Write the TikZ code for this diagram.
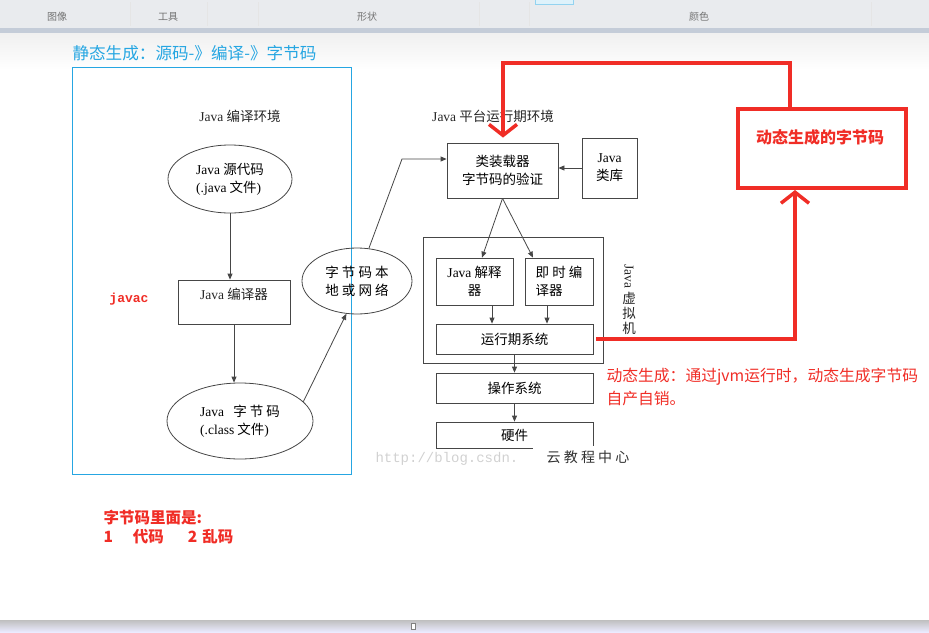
\documentclass[tikz,border=0pt]{standalone}
\usepackage{fontspec}
\setmainfont{Noto Sans CJK SC}
\newfontfamily\latserif{Liberation Serif}
\newfontfamily\latmono{Liberation Mono}
\usetikzlibrary{arrows.meta, shapes.geometric, positioning}
\definecolor{zblue}{RGB}{38,166,226}
\definecolor{zred}{RGB}{240,45,38}
\definecolor{zline}{RGB}{70,70,70}
\definecolor{zbar}{RGB}{233,235,238}
\definecolor{zbarline}{RGB}{196,204,216}
\newcommand\jv{{\latserif Java}}

\begin{document}
\begin{tikzpicture}[x=1pt, y=-1pt,
  ovalnode/.style={ellipse, draw=zline, line width=0.8pt, inner sep=0pt,
                   font=\fontsize{13.5}{18}\selectfont, align=left},
  boxnode/.style={rectangle, draw=zline, line width=0.8pt, inner sep=2pt,
                  font=\fontsize{13.5}{18}\selectfont, align=center},
  lbl/.style={font=\fontsize{13.5}{15}\selectfont, text=black!85},
  tabtext/.style={font=\fontsize{10}{12}\selectfont, text=black!55},
  arr/.style={-{Triangle[length=6pt, width=5pt]}, line width=0.8pt, zline},
  redarr/.style={-{Straight Barb[length=11pt, width=28pt]}, line width=3.5pt, zred},
  rednote/.style={font=\fontsize{15.8}{23}\selectfont, text=zred, align=left, anchor=west}
]
\useasboundingbox (0,0) rectangle (929,632);

% window bars
\fill[zbar] (0,0) rectangle (929,28);
\fill[zbarline] (0,28) rectangle (929,33);
\shade[top color=black!6, bottom color=white] (0,33) rectangle (929,70);
\foreach \sx in {130,207,258,479,529,871}
  \draw[black!10] (\sx,2) -- (\sx,26);
\draw[zblue!50, fill=zblue!15] (535,-1) rectangle (573,4);
\node[tabtext] (tabimg)   at (57,17)  {图像};
\node[tabtext] (tabtool)  at (168,17) {工具};
\node[tabtext] (tabshape) at (367,17) {形状};
\node[tabtext] (tabcolor) at (699,17) {颜色};
\shade[top color=black!25, bottom color=blue!8] (0,620) rectangle (929,632);
\draw[black!50, fill=white] (411,623) rectangle (415,629);

% static side
\node[font=\fontsize{16.6}{18}\selectfont, text=zblue, anchor=west] (stitle) at (69,53)
  {静态生成：源码-》编译-》字节码};
\node[draw=zblue, line width=0.8pt, minimum width=279pt, minimum height=407pt] (staticenv)
  at (211.5,270.5) {};
\node[lbl] (cenv) at (240,116) {\jv\ 编译环境};
\node[ovalnode, minimum width=124pt, minimum height=68pt] (src) at (230,179)
  {\jv\ 源代码\\{\latserif(.java} 文件{\latserif)}};
\node[boxnode, minimum width=112pt, minimum height=44pt,
      label={[lbl, anchor=north, yshift=-5pt]north:\jv\ 编译器}] (javacbox) at (234,302) {};
\node[ovalnode, minimum width=146pt, minimum height=76pt] (clsfile) at (240,421)
  {\jv\ \ \ 字 节 码\\{\latserif(.class} 文件{\latserif)}};
\node[ovalnode, minimum width=110pt, minimum height=66pt, align=center] (netsrc) at (357,281)
  {字 节 码 本\\地 或 网 络};
\node[font=\latmono\bfseries\fontsize{13}{15}\selectfont, text=zred] (javac) at (129,299) {javac};

% runtime side
\node[lbl] (renv) at (493,116) {\jv\ 平台运行期环境};
\node[boxnode, minimum width=111pt, minimum height=55pt] (loader) at (502.5,170.5)
  {类装载器\\字节码的验证};
\node[boxnode, minimum width=55pt, minimum height=60pt] (classlib) at (609.5,168) {\jv\\类库};
\node[boxnode, minimum width=180pt, minimum height=126pt] (jvm) at (513,300) {};
\node[boxnode, minimum width=77pt, minimum height=47pt] (interp) at (474.5,281.5) {\jv\ 解释\\器};
\node[boxnode, minimum width=68pt, minimum height=47pt, align=left] (jit) at (559,281.5)
  {即 时 编\\译器};
\node[boxnode, minimum width=157pt, minimum height=30pt] (runtime) at (514.5,339) {运行期系统};
\node[boxnode, minimum width=157pt, minimum height=30pt] (os) at (514.5,388) {操作系统};
\node[boxnode, minimum width=157pt, minimum height=26pt] (hw) at (514.5,435) {硬件};
\node[lbl, rotate=-90] (vmjava) at (629,276) {\jv};
\node[lbl, align=center, font=\fontsize{13.5}{15}\selectfont] (vmname) at (629,313) {虚\\拟\\机};

% watermark
\node[font=\latmono\fontsize{14}{16}\selectfont, text=black!18, anchor=west] (wmurl)
  at (372,459) {http://blog.csdn.};
\fill[white] (533,446) rectangle (650,482);
\node[font=\fontsize{14}{16}\selectfont, text=black!80] (wmlogo) at (588,457) {云 教 程 中 心};

% black connectors
\coordinate (netbend) at (402,159);
\coordinate (ia) at (492,0);
\coordinate (ja) at (547,0);
\draw[arr] (src.south) -- (src.south |- javacbox.north);
\draw[arr] (javacbox.south) -- (javacbox.south |- clsfile.north);
\draw[arr] (clsfile.17) -- (netsrc.252);
\draw[arr] (netsrc.70) -- (netbend) -- (netbend -| loader.west);
\draw[arr] (classlib.west) -- (classlib.west -| loader.east);
\draw[arr] (loader.south) -- ([xshift=7.5pt]interp.north);
\draw[arr] (loader.south) -- ([xshift=-26pt]jit.north);
\draw[arr] (interp.south -| ia) -- (runtime.north -| ia);
\draw[arr] (jit.south -| ja) -- (runtime.north -| ja);
\draw[arr] (runtime) -- (os);
\draw[arr] (os) -- (hw);

% dynamic side
\node[draw=zred, line width=4pt, minimum width=168pt, minimum height=79pt] (dynbox)
  at (822,148.5) {};
\node[font=\bfseries\fontsize{16}{18}\selectfont, text=zred] (dyntitle) at (820,137)
  {动态生成的字节码};
\node[rednote] (dynnote) at (603,386.5) {动态生成：通过jvm运行时，动态生成字节码\\自产自销。};
\coordinate (rtturn) at (795,339);
\coordinate (topturn) at (790,63);
\coordinate (loadturn) at (503,63);
\draw[redarr] ([xshift=3pt]runtime.east) -- (rtturn) -- (rtturn |- dynbox.south);
\draw[redarr, shorten >=5pt] (topturn |- dynbox.north) -- (topturn) -- (loadturn)
  -- (loadturn |- loader.north);

\node[font=\bfseries\fontsize{15.5}{19}\selectfont, text=zred, align=left, anchor=west] (bnote)
  at (100,527) {字节码里面是:\\1\hspace{20pt}代码\hspace{24pt}2\hspace{5pt}乱码};

\end{tikzpicture}
\end{document}
